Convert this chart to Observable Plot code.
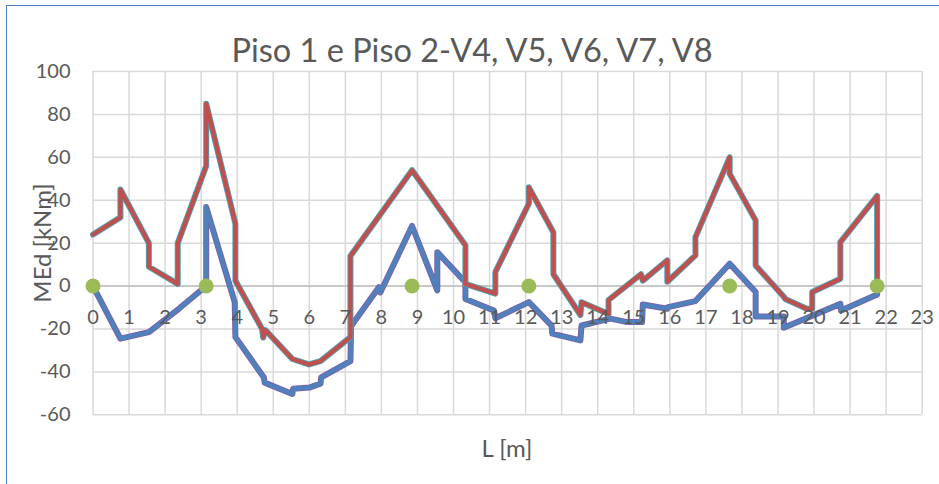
<!DOCTYPE html>
<html>
<head>
<meta charset="utf-8">
<script src="https://cdn.jsdelivr.net/npm/d3@7"></script>
<script src="https://cdn.jsdelivr.net/npm/@observablehq/plot@0.6"></script>
<style>
  html, body { margin: 0; padding: 0; background: #fff; overflow: hidden; }
  #wrap { position: relative; width: 939px; height: 484px; font-family: Lato, "Open Sans", sans-serif; color: #595959; }
  #wrap svg { position: absolute; left: 0; top: 0; }
  .lbl { position: absolute; white-space: nowrap; line-height: 1; }
  #border { position: absolute; left: 6px; top: 5px; width: 1200px; height: 1200px; border: 1.3px solid #4f7fc4; pointer-events: none; }
</style>
</head>
<body>
<div id="wrap">
  <div id="border"></div>
</div>
<script>
// ---- data ----
const chartTitle = "Piso 1 e Piso 2-V4, V5, V6, V7, V8";
const xLabel = "L [m]";
const yLabel = "MEd [kNm]";
const xTicks = [0,1,2,3,4,5,6,7,8,9,10,11,12,13,14,15,16,17,18,19,20,21,22,23];
const yTicks = [-60,-40,-20,0,20,40,60,80,100];

// red series (upper envelope)
const redX = [0, 0.76, 0.76, 1.55, 1.55, 2.35, 2.35, 3.14, 3.14, 3.95, 3.95, 4.69, 4.72, 4.78, 5.53, 5.99, 6.31, 7.14, 7.14, 8.85, 10.33, 10.33, 11.16, 11.16, 12.09, 12.09, 12.77, 12.77, 13.52, 13.55, 14.3, 14.3, 15.2, 15.25, 15.93, 15.93, 16.71, 16.71, 17.66, 17.66, 18.38, 18.38, 19.16, 19.2, 19.8, 19.95, 19.95, 20.73, 20.73, 21.75, 21.75];
const redY = [24, 32, 45, 20, 9, 1, 20, 56, 85, 29, 2.5, -20, -24, -20.5, -34, -36.5, -35, -23.8, 14, 54, 19, 1, -3.5, 6.5, 38.5, 46, 25, 5.5, -13.5, -7.5, -13, -6.5, 5.5, 2.5, 12, 2, 14.3, 22.8, 60, 52.3, 30.6, 9.6, -5, -6, -10.6, -10.6, -2.8, 3.4, 20.5, 42, 0];

// blue series (lower envelope)
const blueX = [0, 0.76, 1.55, 2.38, 3.14, 3.14, 3.93, 3.95, 4.74, 4.76, 5.53, 5.55, 6.0, 6.31, 6.33, 7.14, 7.16, 7.93, 7.97, 8.85, 9.55, 9.55, 10.33, 10.33, 11.12, 11.16, 12.09, 12.72, 12.74, 13.52, 13.55, 14.35, 14.82, 15.23, 15.25, 15.93, 15.95, 16.71, 17.66, 18.38, 18.38, 19.16, 19.16, 20.73, 20.75, 21.75, 21.75];
const blueY = [0, -24.5, -21.5, -10.6, 0, 36.8, -7.5, -23.8, -42.6, -45, -50.3, -47.9, -47.3, -45.5, -42.6, -35, -18.6, -0.5, -3, 28, -2, 15.8, 1.8, -6, -11.4, -15, -7.5, -18.4, -22.2, -25.3, -18.4, -15.2, -16.8, -16.8, -8.6, -10.6, -9.8, -7, 10.4, -2.8, -14.2, -14.2, -19.4, -8.3, -11.4, -3.9, 0];

// supports (green dots)
const supportX = [0, 3.14, 8.85, 12.09, 17.66, 21.75];
const supportY = [0, 0, 0, 0, 0, 0];

// ---- build tables ----
const red = redX.map((x, i) => ({x, y: redY[i]}));
const blue = blueX.map((x, i) => ({x, y: blueY[i]}));
const supports = supportX.map((x, i) => ({x, y: supportY[i]}));

const plot = Plot.plot({
  width: 939,
  height: 484,
  marginLeft: 92.5,
  marginRight: 17.3,
  marginTop: 71,
  marginBottom: 69.7,
  x: {domain: [0, 23], axis: null},
  y: {domain: [-60, 100], axis: null},
  style: {fontFamily: "Lato, 'Open Sans', sans-serif", background: "transparent", overflow: "visible"},
  marks: [
    Plot.ruleX(xTicks, {stroke: "#d9d9d9", strokeWidth: 1.5}),
    Plot.ruleY(yTicks, {stroke: "#d9d9d9", strokeWidth: 1.5}),
    Plot.ruleY([0], {stroke: "#bfbfbf", strokeWidth: 1.5}),
    Plot.line(blue, {x: "x", y: "y", stroke: "#7a60a6", strokeWidth: 6, strokeLinejoin: "round"}),
    Plot.line(blue, {x: "x", y: "y", stroke: "#4f81bd", strokeWidth: 4.2, strokeLinejoin: "round"}),
    Plot.line(red, {x: "x", y: "y", stroke: "#4fa0b4", strokeWidth: 6, strokeLinejoin: "round"}),
    Plot.line(red, {x: "x", y: "y", stroke: "#c0504d", strokeWidth: 4.2, strokeLinejoin: "round"}),
    Plot.dot(supports, {x: "x", y: "y", r: 7.5, fill: "#9bbb59", stroke: "none"}),
    Plot.text(xTicks, {x: d => d, y: 0, dy: 32, text: d => String(d), fontSize: 20, fill: "#595959"}),
    Plot.text(yTicks, {x: 0, y: d => d, dx: -22.5, text: d => String(d), textAnchor: "end", fontSize: 20, fill: "#595959"})
  ]
});

const wrap = document.getElementById("wrap");
wrap.insertBefore(plot, wrap.firstChild);

function addLabel(text, css) {
  const d = document.createElement("div");
  d.className = "lbl";
  d.textContent = text;
  Object.assign(d.style, css);
  wrap.appendChild(d);
  return d;
}
addLabel(chartTitle, {left: "472px", top: "34px", fontSize: "32.5px", transform: "translateX(-50%)"});
addLabel(xLabel, {left: "507px", top: "436px", fontSize: "24px", transform: "translateX(-50%)"});
addLabel(yLabel, {left: "42px", top: "243px", fontSize: "24px", transform: "translate(-50%, -50%) rotate(-90deg)"});
</script>
</body>
</html>
